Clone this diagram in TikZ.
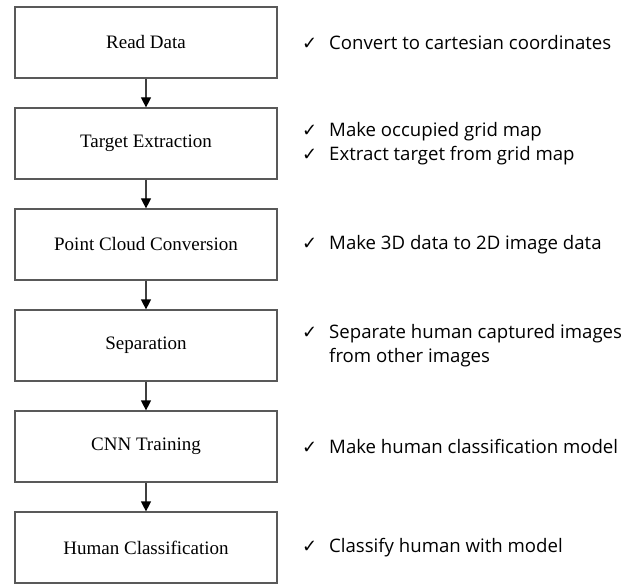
\documentclass[tikz,border=0pt]{standalone}
\usepackage{fontspec}
\setmainfont{Liberation Serif}
\newfontfamily\notefont{Open Sans}
\newfontfamily\tickfont{DejaVu Sans}
\usetikzlibrary{positioning, arrows.meta}
% check mark set in a fixed-width slot
\newcommand{\tck}{\makebox[27pt][l]{\tickfont\fontsize{18pt}{18pt}\selectfont ✓}}

\begin{document}
\begin{tikzpicture}[x=1pt, y=1pt, node distance=28.8pt,
		stepbox/.style={draw=black!65, line width=1.2pt, minimum width=262pt, minimum height=71pt, inner sep=0pt, font=\fontsize{19pt}{21pt}\selectfont},
		notes/.style={align=left, inner sep=0pt, font=\notefont\fontsize{18.6pt}{24pt}\selectfont},
		flow/.style={draw=black!75, line width=1.2pt, -{Triangle[width=10pt, length=10pt, color=black]}}]
		\useasboundingbox (0,0) rectangle (634,-585);
		% process steps
		\node[stepbox] (read) at (146,-42.5) {Read Data};
		\node[stepbox, below=of read] (target) {Target Extraction};
		\node[stepbox, below=of target] (cloud) {Point Cloud Conversion};
		\node[stepbox, below=of cloud] (separ) {Separation};
		\node[stepbox, below=of separ] (cnn) {CNN Training};
		\node[stepbox, below=of cnn] (classif) {Human Classification};
		\foreach \a/\b in {read/target, target/cloud, cloud/separ, separ/cnn, cnn/classif}
		{
			\draw[flow] (\a) -- (\b);
		}
		% notes on the right
		\node[notes, right=156pt of read.center] (readnote) {\tck Convert to cartesian coordinates};
		\node[notes, right=156pt of target.center] (targetnote) {\tck Make occupied grid map\\\tck Extract target from grid map};
		\node[notes, right=156pt of cloud.center] (cloudnote) {\tck Make 3D data to 2D image data};
		\node[notes, right=156pt of separ.center] (separnote) {\tck Separate human captured images\\\hspace*{27pt}from other images};
		\node[notes, right=156pt of cnn.center] (cnnnote) {\tck Make human classification model};
		\node[notes, right=156pt of classif.center] (classifnote) {\tck Classify human with model};
	\end{tikzpicture}
\end{document}
